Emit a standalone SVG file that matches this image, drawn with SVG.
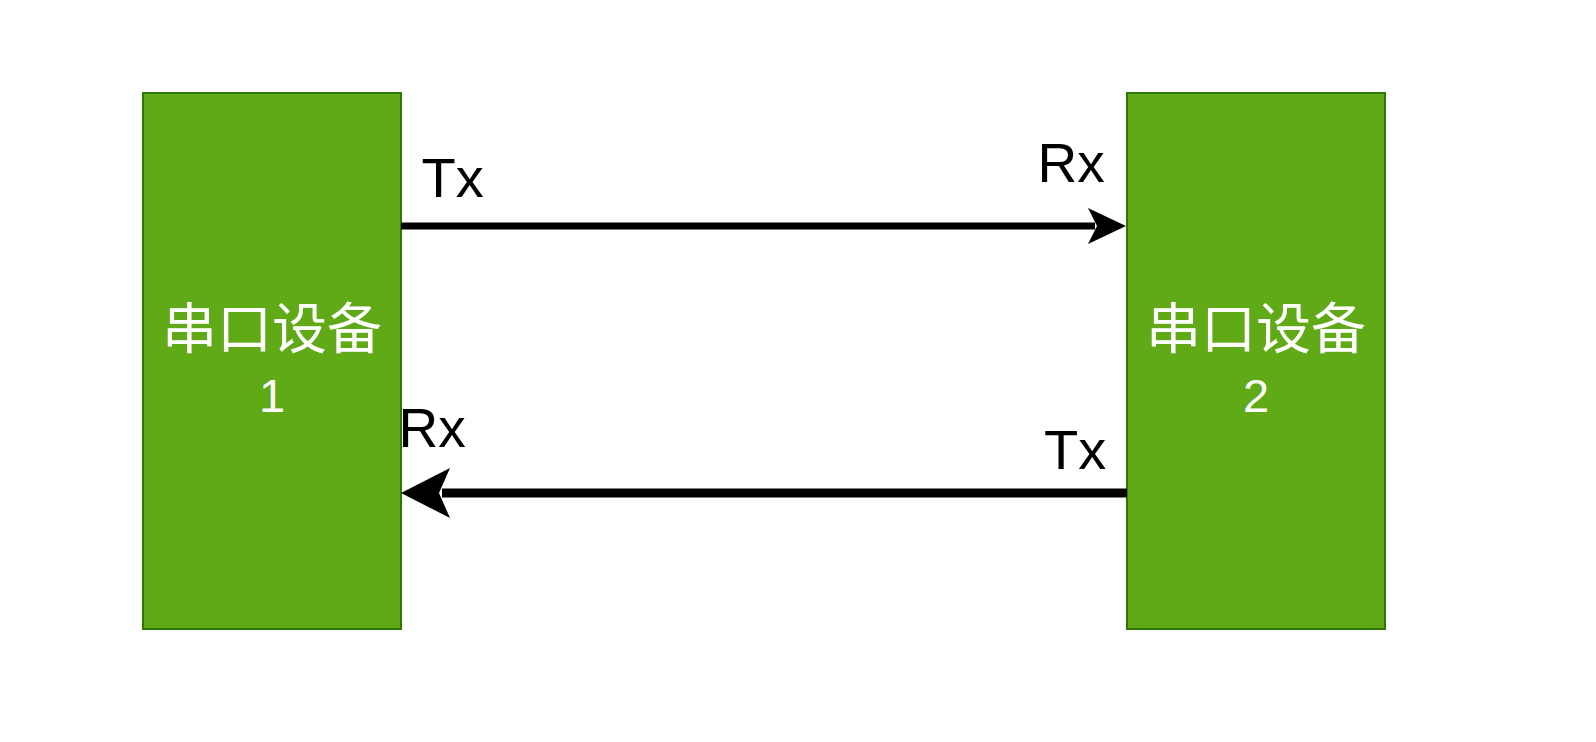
<svg xmlns="http://www.w3.org/2000/svg" width="1596" height="742" viewBox="0 0 1596 742">
  <style>
    .box { fill: #60a917; stroke: #2d7600; stroke-width: 2; }
    .cn { font-family: "Liberation Sans", "Noto Sans CJK SC", sans-serif; font-size: 55px; fill: #ffffff; text-anchor: middle; }
    .num { font-family: "Liberation Sans", "Noto Sans CJK SC", sans-serif; font-size: 47px; fill: #ffffff; text-anchor: middle; }
    .lbl { font-family: "Liberation Sans", Arial, sans-serif; fill: #000000; }
    .wire { stroke: #000000; fill: none; }
    .head { fill: #000000; stroke: none; }
  </style>
  <rect width="1596" height="742" fill="#ffffff"/>
  <g id="device1">
    <rect class="box" x="143" y="93" width="258" height="536"/>
    <text class="cn" x="272" y="348">串口设备</text>
    <text class="num" x="272" y="412">1</text>
  </g>
  <g id="device2">
    <rect class="box" x="1127" y="93" width="258" height="536"/>
    <text class="cn" x="1256" y="348">串口设备</text>
    <text class="num" x="1256" y="412">2</text>
  </g>
  <g id="connectors">
    <line class="wire" x1="401" y1="226" x2="1095" y2="226" stroke-width="7"/>
    <path class="head" d="M1126,226 L1088,208 L1097,226 L1088,244 Z"/>
    <line class="wire" x1="1127" y1="493" x2="442" y2="493" stroke-width="9"/>
    <path class="head" d="M401,493 L450,468 L439,493 L450,518 Z"/>
  </g>
  <g id="labels">
    <text class="lbl" x="421.5" y="197" font-size="56">Tx</text>
    <text class="lbl" x="1037.5" y="182" font-size="55">Rx</text>
    <text class="lbl" x="398.5" y="447" font-size="55">Rx</text>
    <text class="lbl" x="1044" y="469" font-size="56">Tx</text>
  </g>
</svg>
